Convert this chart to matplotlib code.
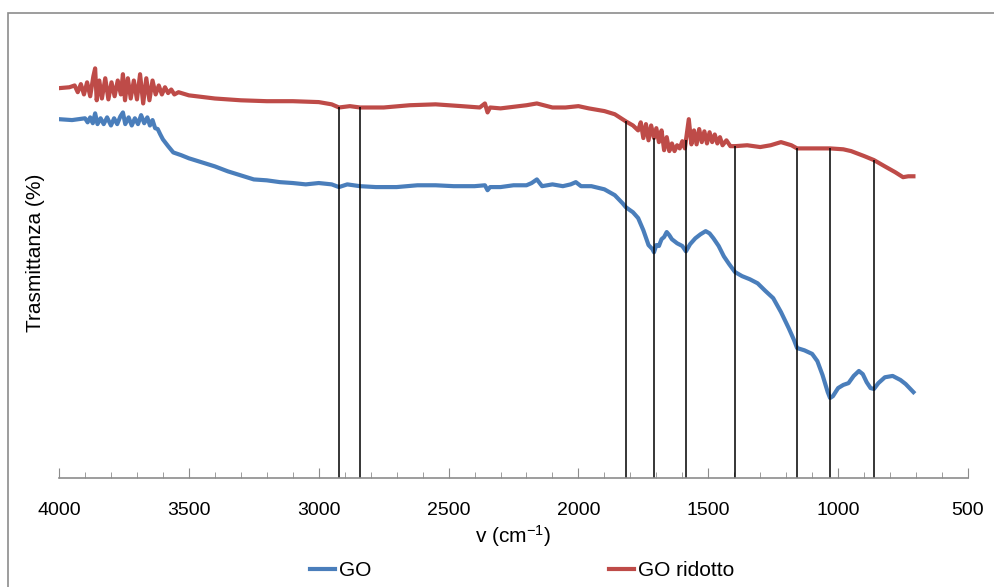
import matplotlib
matplotlib.use("Agg")
import matplotlib.pyplot as plt
import numpy as np
from matplotlib.patches import Rectangle

# FTIR spectra: wavenumber (cm-1) and transmittance (arbitrary %)
red_v = [4000, 3960, 3940, 3928, 3916, 3904, 3892, 3880, 3868, 3861, 3855, 3845,
         3835, 3822, 3810, 3798, 3786, 3774, 3762, 3754, 3746, 3735, 3724, 3712,
         3700, 3688, 3676, 3664, 3652, 3640, 3628, 3616, 3604, 3592, 3580, 3568,
         3556, 3540, 3500, 3400, 3300, 3200, 3100, 3000, 2950, 2922, 2880, 2841,
         2750, 2650, 2550, 2450, 2380, 2360, 2350, 2340, 2300, 2200, 2160, 2100,
         2050, 2000, 1960, 1900, 1860, 1817, 1790, 1770, 1760, 1750, 1740, 1730,
         1720, 1709, 1700, 1690, 1680, 1670, 1660, 1650, 1640, 1630, 1620, 1610,
         1600, 1590, 1586, 1575, 1565, 1555, 1545, 1535, 1525, 1515, 1505, 1495,
         1485, 1475, 1465, 1455, 1445, 1430, 1415, 1397, 1350, 1300, 1260, 1220,
         1180, 1158, 1100, 1031, 980, 950, 900, 862, 820, 780, 750, 730, 710]
red_T = [86.7, 86.9, 87.3, 85.8, 87.6, 85.3, 88.0, 84.9, 89.3, 91.1, 84.0, 88.4,
         84.4, 88.9, 84.2, 88.0, 84.9, 88.4, 85.3, 89.8, 84.0, 88.9, 84.4, 88.4,
         84.2, 89.8, 83.3, 88.9, 84.0, 88.4, 85.3, 87.3, 85.3, 86.9, 85.6, 86.4,
         85.3, 85.8, 85.1, 84.4, 84.0, 83.8, 83.8, 83.6, 83.1, 82.4, 82.7, 82.4,
         82.4, 82.9, 83.1, 82.7, 82.4, 83.3, 81.3, 82.4, 82.2, 82.9, 83.3, 82.4,
         82.4, 82.7, 82.2, 81.6, 80.9, 79.3, 78.4, 77.3, 79.1, 75.6, 78.7, 75.1,
         78.4, 75.6, 77.8, 74.7, 77.3, 72.9, 75.8, 72.7, 74.4, 72.7, 74.0, 73.3,
         74.9, 73.3, 75.1, 79.8, 74.2, 77.3, 74.2, 77.6, 74.7, 77.1, 74.4, 76.9,
         74.7, 76.4, 74.4, 75.8, 74.0, 75.1, 73.8, 73.8, 74.0, 73.6, 74.0, 74.7,
         74.0, 73.3, 73.3, 73.3, 73.1, 72.7, 71.6, 70.7, 69.3, 68.0, 66.9, 67.1, 67.1]

blue_v = [4000, 3950, 3900, 3890, 3880, 3870, 3861, 3852, 3840, 3828, 3815, 3800,
          3788, 3776, 3764, 3754, 3745, 3732, 3720, 3708, 3696, 3684, 3672, 3660,
          3650, 3640, 3630, 3620, 3610, 3600, 3580, 3560, 3530, 3500, 3450, 3400,
          3350, 3300, 3250, 3200, 3150, 3100, 3050, 3000, 2950, 2922, 2890, 2841,
          2780, 2700, 2620, 2550, 2480, 2400, 2360, 2350, 2340, 2300, 2250, 2200,
          2180, 2160, 2140, 2100, 2060, 2030, 2010, 1990, 1950, 1900, 1860, 1830,
          1817, 1790, 1770, 1750, 1730, 1715, 1709, 1700, 1690, 1680, 1670, 1660,
          1650, 1640, 1620, 1600, 1586, 1570, 1550, 1530, 1510, 1495, 1480, 1460,
          1440, 1420, 1397, 1370, 1340, 1310, 1280, 1250, 1220, 1190, 1170, 1158,
          1130, 1100, 1080, 1060, 1040, 1031, 1020, 1000, 980, 960, 940, 920,
          905, 890, 875, 862, 845, 820, 790, 760, 740, 710]
blue_T = [79.8, 79.6, 80.0, 79.1, 80.2, 78.9, 81.1, 78.7, 80.0, 78.7, 80.2, 78.4,
          80.0, 78.7, 80.4, 81.3, 78.7, 80.2, 78.4, 80.0, 78.7, 80.7, 78.9, 80.2,
          78.4, 79.6, 77.8, 77.6, 76.4, 75.3, 73.8, 72.4, 71.8, 71.1, 70.2, 69.3,
          68.2, 67.3, 66.4, 66.2, 65.8, 65.6, 65.3, 65.6, 65.3, 64.7, 65.3, 64.9,
          64.7, 64.7, 65.1, 65.1, 64.9, 64.9, 65.1, 64.0, 64.7, 64.7, 65.1, 65.1,
          65.6, 66.4, 64.9, 65.3, 64.9, 65.3, 65.8, 64.9, 64.9, 64.2, 62.9, 61.1,
          60.2, 59.1, 57.8, 55.1, 51.8, 50.9, 50.2, 51.8, 51.6, 53.1, 53.6, 54.7,
          54.0, 53.1, 52.2, 51.6, 50.4, 52.0, 53.3, 54.2, 54.9, 54.4, 53.3, 51.6,
          49.3, 47.6, 45.8, 44.9, 44.2, 43.3, 41.6, 40.0, 36.9, 33.3, 30.7, 28.9,
          28.4, 27.6, 26.0, 22.9, 19.1, 17.8, 18.2, 20.0, 20.7, 21.1, 22.7, 23.8,
          23.1, 21.3, 20.0, 19.8, 21.1, 22.4, 22.7, 21.8, 20.9, 19.1]

# marked absorption bands
peaks = [2922, 2841, 1817, 1709, 1586, 1397, 1158, 1031, 862]

x_ticks = [4000, 3500, 3000, 2500, 2000, 1500, 1000, 500]

plt.rcParams["font.family"] = ["Liberation Sans", "DejaVu Sans"]
plt.rcParams["mathtext.default"] = "regular"

fig = plt.figure(figsize=(9.94, 5.87), dpi=100)
ax = fig.add_axes([0.0594, 0.1857, 0.9144, 0.766])

# chart area border (Excel style)
fig.patches.append(Rectangle((0.008, -0.01), 1.2, 0.988, transform=fig.transFigure,
                             fill=False, edgecolor="#8c8c8c", linewidth=1.2))

ax.plot(blue_v, blue_T, color="#4a7ebb", linewidth=3.0, label="GO")
ax.plot(red_v, red_T, color="#be4b48", linewidth=3.0, label="GO ridotto")

tops = np.interp(peaks, red_v[::-1], red_T[::-1])
ax.vlines(peaks, 0, tops, color="black", linewidth=1.1)

ax.set_xlim(4000, 500)
ax.set_ylim(0, 100)
ax.set_xticks(x_ticks)
ax.set_xticks(np.arange(500, 4001, 100), minor=True)
ax.tick_params(axis="x", which="major", direction="in", length=7, color="#8c8c8c",
               labelsize=14, pad=17)
ax.tick_params(axis="x", which="minor", direction="in", length=4, color="#8c8c8c")
ax.set_yticks([])

for side in ["top", "right", "left"]:
    ax.spines[side].set_visible(False)
ax.spines["bottom"].set_color("#8c8c8c")
ax.spines["bottom"].set_linewidth(1.2)

ax.set_xlabel("v (cm$^{-1}$)", fontsize=15, labelpad=3)
ax.set_ylabel("Trasmittanza (%)", fontsize=15, labelpad=10)

fig.legend(loc="lower center", bbox_to_anchor=(0.525, -0.02), ncol=2, frameon=False,
           fontsize=15, handlelength=1.2, handletextpad=0.2, columnspacing=11.4)

fig.savefig("out.png", dpi=100)
